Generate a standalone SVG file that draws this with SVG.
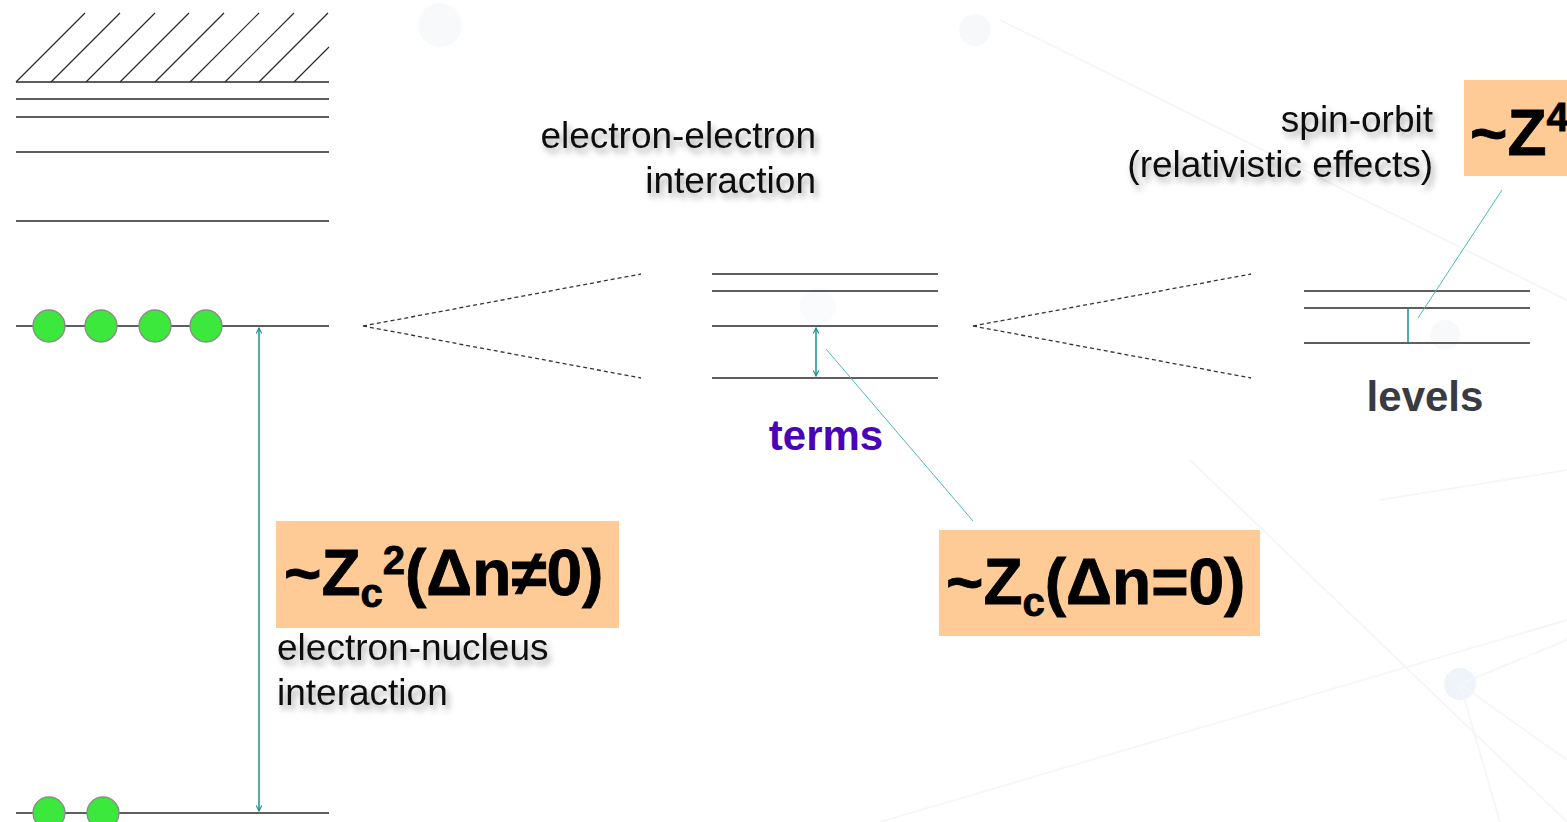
<svg xmlns="http://www.w3.org/2000/svg" width="1567" height="822" viewBox="0 0 1567 822">
  <defs>
    <style>
      .lvl { stroke: #2a2a2a; stroke-width: 1.3; fill: none; }
      .hatch { stroke: #2a2a2a; stroke-width: 1.2; fill: none; }
      .dash { stroke: #333; stroke-width: 1.3; stroke-dasharray: 4 3; fill: none; }
      .teal { stroke: #17918f; stroke-width: 1.5; fill: none; }
      .lead { stroke: #4fb8b5; stroke-width: 1; fill: none; }
      .el { fill: #3de83d; stroke: #8a8a8a; stroke-width: 1.3; }
      .lbl { font-family: "Liberation Sans", Arial, sans-serif; font-size: 37px; fill: #111; filter: url(#shadow); }
      .big { font-family: "Liberation Sans", Arial, sans-serif; font-weight: bold; font-size: 64px; fill: #000; stroke: #000; stroke-width: 0.8; }
      .box { fill: #fecb96; }
      .bg { stroke: #f1f4f4; stroke-width: 2; fill: none; }
    </style>
    <filter id="shadow" x="-10%" y="-30%" width="130%" height="180%">
      <feDropShadow dx="3" dy="5" stdDeviation="3" flood-color="#000" flood-opacity="0.35"/>
    </filter>
    <marker id="tip" viewBox="0 0 10 10" refX="9" refY="5" markerWidth="7" markerHeight="7" orient="auto-start-reverse" markerUnits="userSpaceOnUse">
      <path d="M1,1 L9,5 L1,9" fill="none" stroke="#17918f" stroke-width="1.6"/>
    </marker>
  </defs>

  <rect width="1567" height="822" fill="#ffffff"/>

  <!-- faint decorative backdrop -->
  <g id="backdrop" opacity="0.7">
    <circle cx="440" cy="25" r="22" fill="#f5f7f8"/>
    <circle cx="975" cy="30" r="16" fill="#f3f6f9"/>
    <circle cx="818" cy="306" r="18" fill="#f8fafb"/>
    <circle cx="1445" cy="335" r="15" fill="#f4f7fa"/>
    <circle cx="1460" cy="684" r="16" fill="#e8f0f8"/>
    <path class="bg" d="M1000,20 L1567,300"/>
    <path class="bg" d="M1190,460 L1567,822" stroke="#f0f4ea"/>
    <path class="bg" d="M1380,500 L1567,470" stroke="#f0f4ea"/>
    <path class="bg" d="M880,822 L1567,620" stroke="#f0f4ea"/>
    <path class="bg" d="M1460,684 L1567,640 M1460,684 L1500,822 M1460,684 L1567,760" stroke="#e8eff5"/>
  </g>

  <!-- continuum and bound levels of the configuration -->
  <g id="configuration">
    <path class="hatch" d="M16,82 L85,13 M51,82 L120,13 M86,82 L155,13 M120,82 L189,13 M155,82 L224,13 M190,82 L259,13 M225,82 L294,13 M259,82 L328,13 M294,82 L329,47"/>
    <path class="lvl" d="M16,82 H329 M16,99 H329 M16,117 H329 M16,152 H329 M16,221 H329"/>
    <path class="lvl" d="M16,326 H329"/>
    <path class="lvl" d="M16,813 H329"/>
  </g>

  <g id="electrons-valence">
    <circle class="el" cx="49" cy="326" r="16"/>
    <circle class="el" cx="101" cy="326" r="16"/>
    <circle class="el" cx="155" cy="326" r="16"/>
    <circle class="el" cx="206" cy="326" r="16"/>
  </g>
  <g id="electrons-core">
    <circle class="el" cx="49" cy="813" r="16"/>
    <circle class="el" cx="103" cy="813" r="16"/>
  </g>

  <!-- term splitting -->
  <g id="terms">
    <path class="lvl" d="M712,274 H938 M712,291 H938 M712,326 H938 M712,378 H938"/>
    <text x="826" y="450" text-anchor="middle" font-family="Liberation Sans, Arial, sans-serif" font-weight="bold" font-size="42" fill="#4a03b8">terms</text>
  </g>

  <!-- fine-structure levels -->
  <g id="levels">
    <path class="lvl" d="M1304,291 H1530 M1304,308 H1530 M1304,343 H1530"/>
    <text x="1425" y="411" text-anchor="middle" font-family="Liberation Sans, Arial, sans-serif" font-weight="bold" font-size="42" fill="#3a3a42">levels</text>
  </g>

  <g id="label-ee">
    <text class="lbl" x="816" y="148" text-anchor="end">electron-electron</text>
    <text class="lbl" x="816" y="193" text-anchor="end">interaction</text>
  </g>

  <g id="label-so">
    <text class="lbl" x="1433" y="132" text-anchor="end">spin-orbit</text>
    <text class="lbl" x="1433" y="177" text-anchor="end">(relativistic effects)</text>
  </g>

  <g id="label-en">
    <text class="lbl" x="277" y="660">electron-nucleus</text>
    <text class="lbl" x="277" y="705">interaction</text>
  </g>

  <g id="box-z2">
    <rect class="box" x="276" y="521" width="343" height="107"/>
    <text class="big" x="284" y="595">~Z<tspan font-size="40" dy="12">c</tspan><tspan font-size="40" dy="-33">2</tspan><tspan dy="21">(Δn≠0)</tspan></text>
  </g>

  <g id="box-z1">
    <rect class="box" x="939" y="530" width="321" height="106"/>
    <text class="big" x="946" y="604">~Z<tspan font-size="40" dy="12">c</tspan><tspan dy="-12">(Δn=0)</tspan></text>
  </g>

  <g id="box-z4">
    <rect class="box" x="1464" y="80" width="110" height="96"/>
    <text class="big" x="1470" y="155">~Z<tspan font-size="40" dy="-24">4</tspan></text>
  </g>

  <!-- connectors -->
  <g id="connectors">
    <path class="dash" d="M363,326 L641,274 M363,326 L641,378"/>
    <path class="dash" d="M973,326 L1251,274 M973,326 L1251,378"/>
    <path class="teal" d="M259,328 V811" marker-start="url(#tip)" marker-end="url(#tip)"/>
    <path class="teal" d="M816,328 V376" marker-start="url(#tip)" marker-end="url(#tip)"/>
    <path class="teal" d="M1408,308 V343"/>
    <path class="lead" d="M826,349 L973,521"/>
    <path class="lead" d="M1418,318 L1502,190"/>
  </g>
</svg>
